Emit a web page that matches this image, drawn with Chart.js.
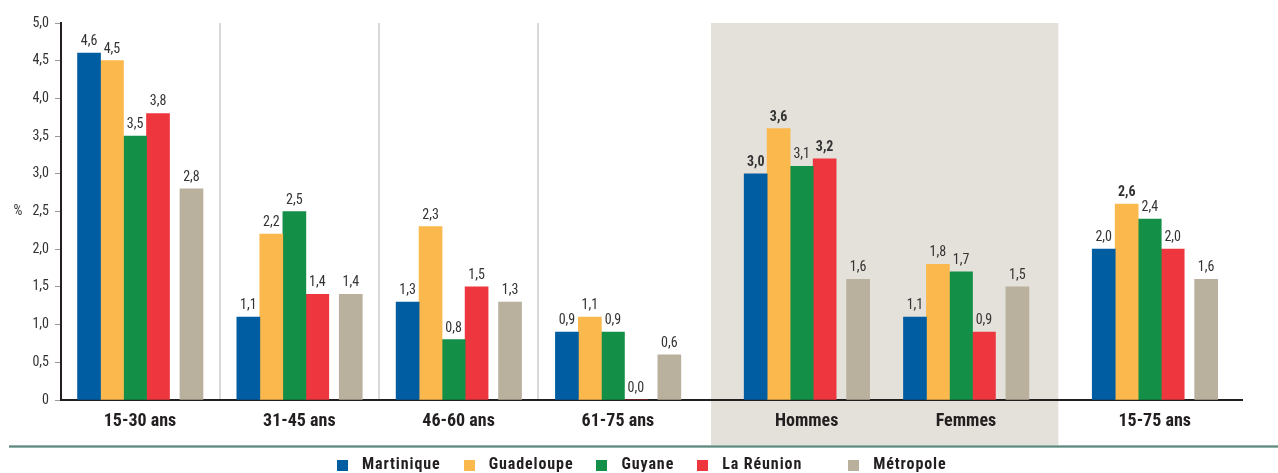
<!DOCTYPE html>
<html>
<head>
<meta charset="utf-8">
<script src="https://cdn.jsdelivr.net/npm/chart.js@4.4.1/dist/chart.umd.min.js"></script>
<style>
html, body { margin: 0; padding: 0; background: #fff; }
#wrap { position: relative; width: 1278px; height: 473px; overflow: hidden; }
#legend {
    position: absolute; left: 337px; top: 456px;
    display: flex; align-items: center;
    font: bold 16px 'Roboto Condensed', sans-serif; letter-spacing: 0.9px;
    color: #231f20; line-height: 16px; white-space: nowrap;
}
#legend .item { display: flex; align-items: center; }
#legend .item + .item { margin-left: 23px; }
#legend .item.far { margin-left: 46px; }
#legend .box { display: inline-block; width: 11px; height: 11px; margin-right: 14px; position: relative; top: 1px; }
</style>
</head>
<body>
<div id="wrap">
    <canvas id="chart" width="1278" height="473"></canvas>
    <div id="legend"></div>
</div>
<script>
// ----- Data -----
const categories = ['15-30 ans', '31-45 ans', '46-60 ans', '61-75 ans', 'Hommes', 'Femmes', '15-75 ans'];
const seriesNames = ['Martinique', 'Guadeloupe', 'Guyane', 'La Réunion', 'Métropole'];
const martinique = [4.6, 1.1, 1.3, 0.9, 3.0, 1.1, 2.0];
const guadeloupe = [4.5, 2.2, 2.3, 1.1, 3.6, 1.8, 2.6];
const guyane     = [3.5, 2.5, 0.8, 0.9, 3.1, 1.7, 2.4];
const reunion    = [3.8, 1.4, 1.5, 0.0, 3.2, 0.9, 2.0];
const metropole  = [2.8, 1.4, 1.3, 0.6, 1.6, 1.5, 1.6];
const yTicks = [0, 0.5, 1, 1.5, 2, 2.5, 3, 3.5, 4, 4.5, 5];
// values printed in bold: [series index, category index]
const emphasis = [[0, 4], [1, 4], [3, 4], [1, 6]];

// ----- Layout helpers -----
const FONT = "'Roboto Condensed', 'Open Sans', sans-serif";
const colors = ['#005da2', '#fbb84d', '#138f47', '#ee363e', '#b9b09e'];
const SECTION_GAP = 0.185;          // extra room before "Hommes" and before "15-75 ans"
const groupX = categories.map((c, i) => i + (i >= 4 ? SECTION_GAP : 0) + (i >= 6 ? SECTION_GAP : 0));
const X_MIN = -0.496, X_MAX = 6.918;
// where each series sits inside its group (category units); Métropole stands apart
const seriesOffset = [-0.320, -0.176, -0.031, 0.113, 0.323];

const fmt = v => v.toFixed(1).replace('.', ',');
const toPoints = arr => arr.map((v, i) => ({ x: groupX[i], y: v }));

const allSeries = [martinique, guadeloupe, guyane, reunion, metropole];
const datasets = allSeries.map((arr, i) => ({
    label: seriesNames[i],
    data: toPoints(arr),
    backgroundColor: colors[i],
    borderWidth: 0,
    barThickness: 23,
    grouped: false,
    xAxisID: 'xs' + i
}));

// ----- Plugins -----
const backdrop = {
    id: 'backdrop',
    beforeDraw(chart) {
        const { ctx, chartArea, scales: { x, y } } = chart;
        const lineY = chartArea.bottom + 46.5;
        ctx.save();
        // shaded panel behind Hommes / Femmes
        const left = x.getPixelForValue(groupX[4] - 0.6);
        const right = x.getPixelForValue(groupX[5] + 0.58);
        ctx.fillStyle = '#e4e0da';
        ctx.fillRect(left, chartArea.top, right - left, lineY - chartArea.top);
        // separators between age groups
        ctx.strokeStyle = '#d9d9d9';
        ctx.lineWidth = 2;
        for (let i = 0; i < 3; i++) {
            const px = Math.round(x.getPixelForValue((groupX[i] + groupX[i + 1]) / 2));
            ctx.beginPath();
            ctx.moveTo(px, chartArea.top);
            ctx.lineTo(px, chartArea.bottom);
            ctx.stroke();
        }
        // bottom rule
        ctx.strokeStyle = '#a9c2bb';
        ctx.lineWidth = 3;
        ctx.beginPath(); ctx.moveTo(9, lineY); ctx.lineTo(chart.width, lineY); ctx.stroke();
        ctx.strokeStyle = '#5e877d';
        ctx.lineWidth = 1.6;
        ctx.beginPath(); ctx.moveTo(9, lineY); ctx.lineTo(chart.width, lineY); ctx.stroke();
        // unit
        ctx.fillStyle = '#333';
        ctx.font = '14px ' + FONT;
        ctx.textAlign = 'center';
        ctx.textBaseline = 'middle';
        ctx.fillText('%', 18, y.getPixelForValue(2.5));
        ctx.restore();
    }
};

const valueLabels = {
    id: 'valueLabels',
    afterDatasetsDraw(chart) {
        const ctx = chart.ctx;
        ctx.save();
        ctx.textAlign = 'center';
        ctx.textBaseline = 'alphabetic';
        ctx.fillStyle = '#333';
        chart.data.datasets.forEach((ds, di) => {
            chart.getDatasetMeta(di).data.forEach((bar, i) => {
                const bold = emphasis.some(([s, g]) => s === di && g === i);
                ctx.font = (bold ? 'bold ' : '') + '14px ' + FONT;
                ctx.fillText(fmt(ds.data[i].y), bar.x, bar.y - 8);
            });
        });
        ctx.restore();
    }
};

// ----- Chart -----
const scales = {
    x: {
        type: 'linear', min: X_MIN, max: X_MAX, offset: false,
        afterBuildTicks: s => { s.ticks = groupX.map(v => ({ value: v })); },
        afterFit: s => { s.height = 40; },
        grid: { display: false, drawTicks: false, offset: false },
        border: { display: true, color: '#231f20', width: 2 },
        ticks: {
            autoSkip: false, maxRotation: 0, padding: 11,
            color: '#231f20',
            font: { family: FONT, size: 18, weight: 'bold' },
            callback: (v, i) => categories[i]
        }
    },
    y: {
        min: 0, max: 5,
        afterBuildTicks: s => { s.ticks = yTicks.map(v => ({ value: v })); },
        afterFit: s => { s.width = 61; },
        grid: { drawOnChartArea: false, drawTicks: true, tickLength: 6, color: '#9a9a9a', lineWidth: 1 },
        border: { display: true, color: '#231f20', width: 2 },
        ticks: {
            padding: 6, color: '#333',
            font: { family: FONT, size: 14 },
            callback: v => v === 0 ? '0' : fmt(v)
        }
    }
};
// one hidden axis per series, shifted so each series lands at its slot in the group
seriesOffset.forEach((off, i) => {
    scales['xs' + i] = {
        type: 'linear', axis: 'x', display: false, offset: false,
        min: X_MIN - off, max: X_MAX - off
    };
});

const chart = new Chart(document.getElementById('chart'), {
    type: 'bar',
    data: { datasets },
    options: {
        responsive: false,
        animation: false,
        devicePixelRatio: 1,
        layout: { padding: { top: 23, right: 36, bottom: 33, left: 0 } },
        plugins: {
            legend: { display: false },
            tooltip: { enabled: false }
        },
        scales
    },
    plugins: [backdrop, valueLabels]
});

// ----- HTML legend -----
const legendEl = document.getElementById('legend');
chart.data.datasets.forEach((ds, i) => {
    const item = document.createElement('span');
    item.className = 'item' + (i === 4 ? ' far' : '');
    item.innerHTML = `<span class="box" style="background:${ds.backgroundColor}"></span>${ds.label}`;
    legendEl.appendChild(item);
});
</script>
</body>
</html>
